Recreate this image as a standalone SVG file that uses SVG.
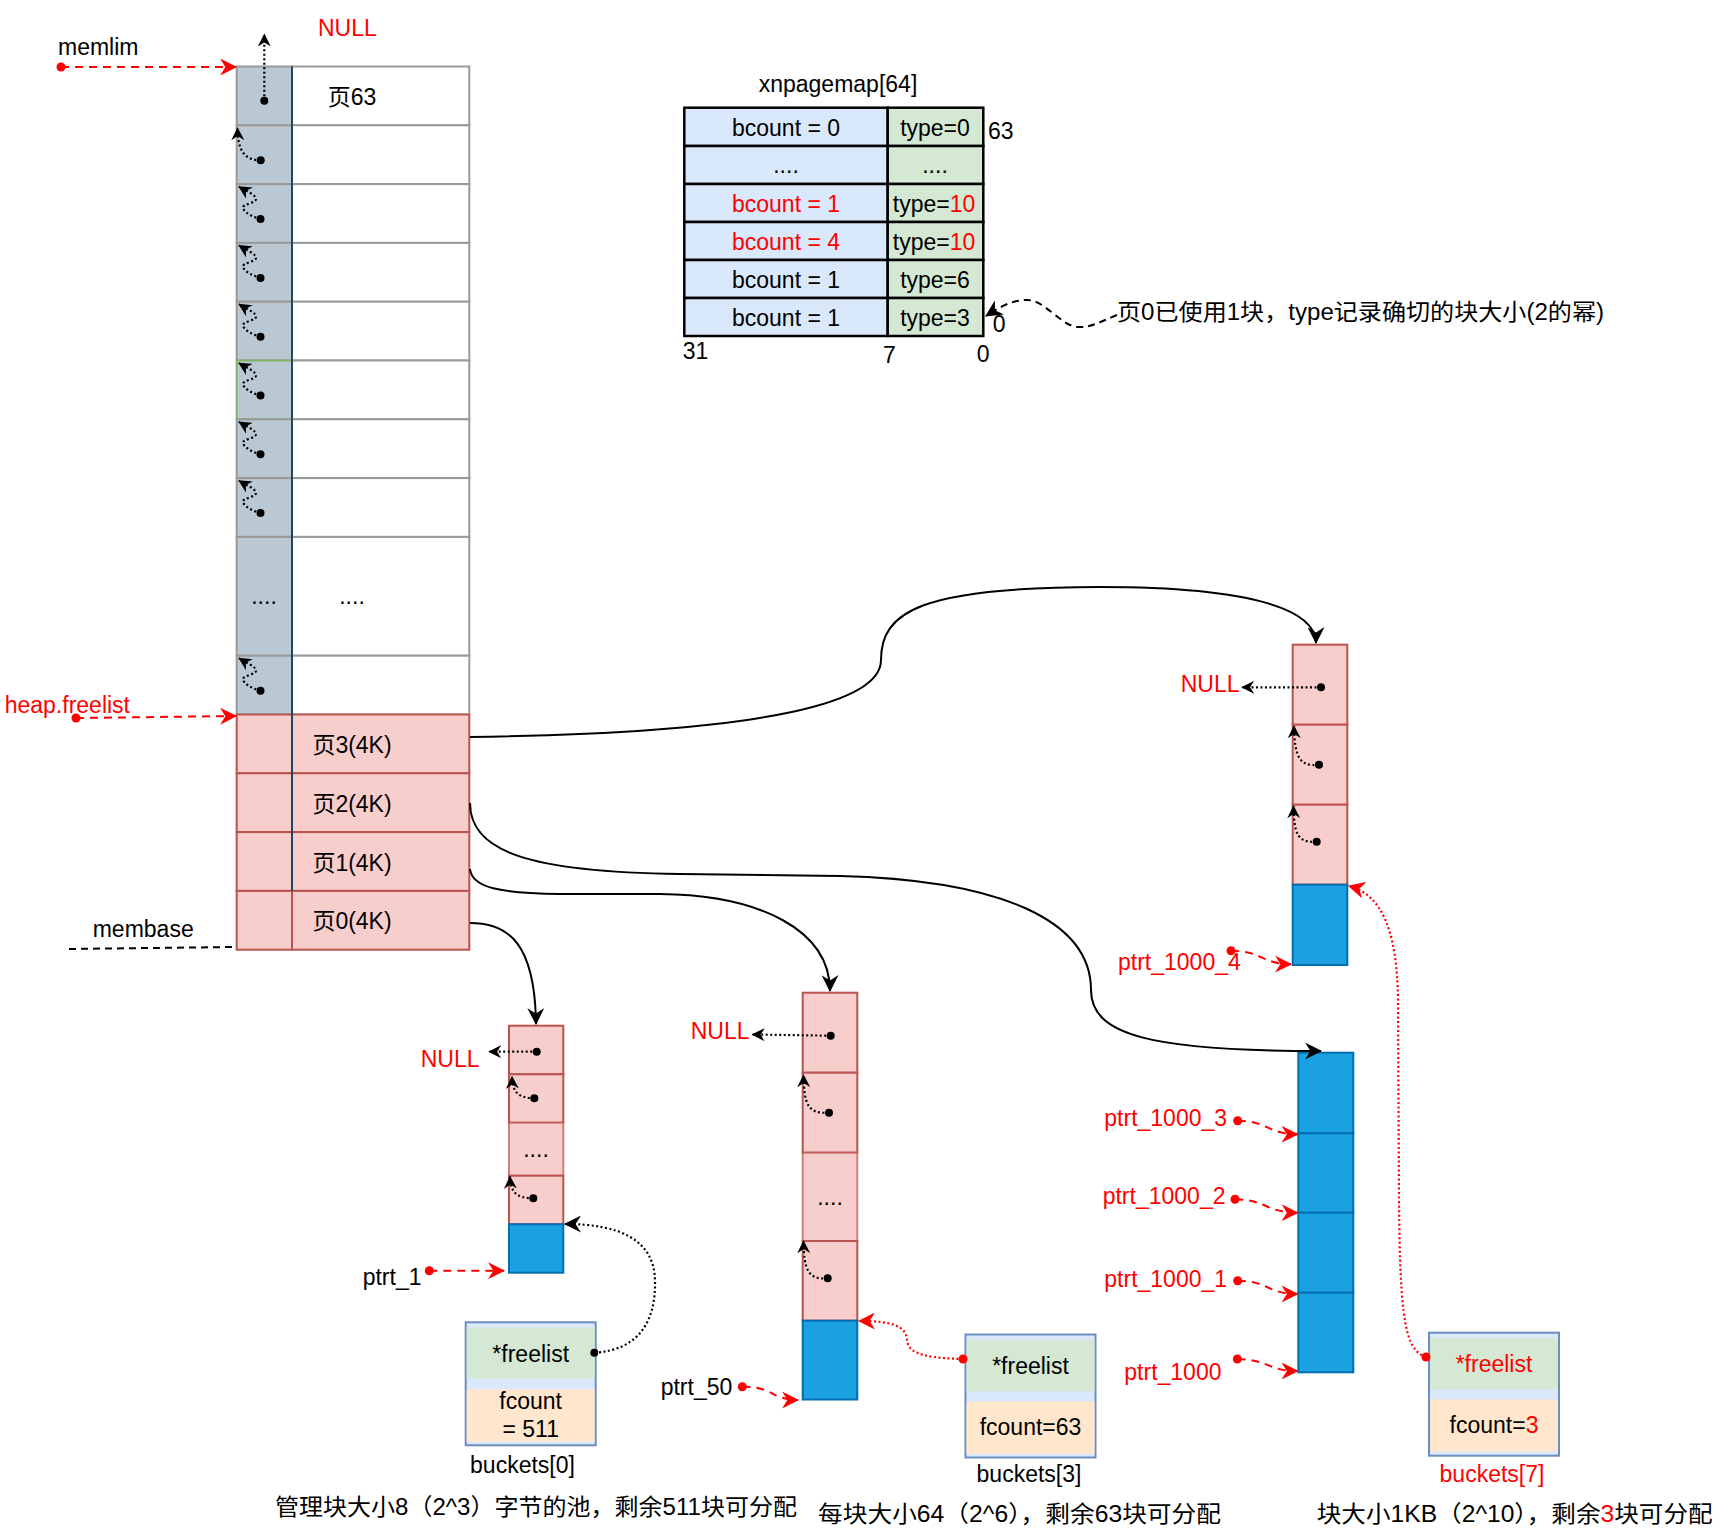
<svg xmlns="http://www.w3.org/2000/svg" width="1734" height="1532" viewBox="0 0 1734 1532">
<style>
text{font-family:"Liberation Sans","Noto Sans CJK SC",sans-serif;font-size:23px;fill:#000}
.c{text-anchor:middle}
.r{fill:#ff0000}
.gray{fill:#bac8d3;stroke:#999;stroke-width:2}
.white{fill:#fff;stroke:#999;stroke-width:2}
.pink{fill:#f8cecc;stroke:#b85450;stroke-width:2}
.blue{fill:#1ba1e2;stroke:#006eaf;stroke-width:2}
.tl{fill:#dae8fc;stroke:#000;stroke-width:2.5}
.tr{fill:#d5e8d4;stroke:#000;stroke-width:2.5}
.bo{fill:#dae8fc;stroke:#6c8ebf;stroke-width:2}
.bg{fill:#d5e8d4}
.bor{fill:#ffe6cc}
.solid{fill:none;stroke:#000;stroke-width:2}
.dot{fill:none;stroke:#000;stroke-width:2.2;stroke-dasharray:2 2.5}
.rdash{fill:none;stroke:#ff0000;stroke-width:2;stroke-dasharray:8 6}
.rdot{fill:none;stroke:#ff0000;stroke-width:2.2;stroke-dasharray:2 2.5}
.kdash{fill:none;stroke:#000;stroke-width:2;stroke-dasharray:7 5}
</style>
<defs>
<marker id="ab" viewBox="0 0 16 16" refX="15" refY="8" markerWidth="17" markerHeight="17" markerUnits="userSpaceOnUse" orient="auto"><path d="M0,0 L16,8 L0,16 L5,8 Z" fill="#000"/></marker>
<marker id="as" viewBox="0 0 16 16" refX="15" refY="8" markerWidth="13" markerHeight="13" markerUnits="userSpaceOnUse" orient="auto"><path d="M0,0 L16,8 L0,16 L5,8 Z" fill="#000"/></marker>
<marker id="ar" viewBox="0 0 16 16" refX="15" refY="8" markerWidth="17" markerHeight="17" markerUnits="userSpaceOnUse" orient="auto"><path d="M0,0 L16,8 L0,16 L5,8 Z" fill="#ff0000"/></marker>
<marker id="dk" viewBox="-5 -5 10 10" refX="0" refY="0" markerWidth="10" markerHeight="10" markerUnits="userSpaceOnUse"><circle r="4" fill="#000"/></marker>
<marker id="dr" viewBox="-5 -5 10 10" refX="0" refY="0" markerWidth="10" markerHeight="10" markerUnits="userSpaceOnUse"><circle r="4.5" fill="#ff0000"/></marker>
</defs>
<rect width="1734" height="1532" fill="#fff"/>

<g id="heap">
  <g id="page63"><rect class="gray" x="236.7" y="66.5" width="55.3" height="58.8"/><rect class="white" x="292" y="66.5" width="177.3" height="58.8"/><text class="c" x="352" y="105">页63</text></g>
  <g id="page62"><rect class="gray" x="236.7" y="125.3" width="55.3" height="58.8"/><rect class="white" x="292" y="125.3" width="177.3" height="58.8"/></g>
  <g id="page61"><rect class="gray" x="236.7" y="184.1" width="55.3" height="58.8"/><rect class="white" x="292" y="184.1" width="177.3" height="58.8"/></g>
  <g id="page60"><rect class="gray" x="236.7" y="242.9" width="55.3" height="58.8"/><rect class="white" x="292" y="242.9" width="177.3" height="58.8"/></g>
  <g id="page59"><rect class="gray" x="236.7" y="301.7" width="55.3" height="58.8"/><rect class="white" x="292" y="301.7" width="177.3" height="58.8"/></g>
  <g id="page58"><rect class="gray" x="236.7" y="360.5" width="55.3" height="58.8" style="stroke:#82b366"/><rect class="white" x="292" y="360.5" width="177.3" height="58.8"/></g>
  <g id="page57"><rect class="gray" x="236.7" y="419.3" width="55.3" height="58.8"/><rect class="white" x="292" y="419.3" width="177.3" height="58.8"/></g>
  <g id="page56"><rect class="gray" x="236.7" y="478.1" width="55.3" height="58.8"/><rect class="white" x="292" y="478.1" width="177.3" height="58.8"/></g>
  <g id="page-dots"><rect class="gray" x="236.7" y="536.9" width="55.3" height="118.8"/><rect class="white" x="292" y="536.9" width="177.3" height="118.8"/><text class="c" x="264" y="604">....</text><text class="c" x="352" y="604">....</text></g>
  <g id="page4"><rect class="gray" x="236.7" y="655.7" width="55.3" height="58.8"/><rect class="white" x="292" y="655.7" width="177.3" height="58.8"/></g>
  <g id="page3"><rect class="pink" x="236.7" y="714.5" width="55.3" height="58.8"/><rect class="pink" x="292" y="714.5" width="177.3" height="58.8"/><text class="c" x="352" y="753">页3(4K)</text></g>
  <g id="page2"><rect class="pink" x="236.7" y="773.3" width="55.3" height="58.8"/><rect class="pink" x="292" y="773.3" width="177.3" height="58.8"/><text class="c" x="352" y="812">页2(4K)</text></g>
  <g id="page1"><rect class="pink" x="236.7" y="832.1" width="55.3" height="58.8"/><rect class="pink" x="292" y="832.1" width="177.3" height="58.8"/><text class="c" x="352" y="870.5">页1(4K)</text></g>
  <g id="page0"><rect class="pink" x="236.7" y="890.9" width="55.3" height="58.8"/><rect class="pink" x="292" y="890.9" width="177.3" height="58.8"/><text class="c" x="352" y="929.3">页0(4K)</text></g>
  <line x1="292" y1="66.5" x2="292" y2="890.9" stroke="#23445d" stroke-width="2"/>
</g>

<g id="labels-left">
  <text x="58" y="55">memlim</text>
  <text class="r" x="318" y="36">NULL</text>
  <text class="r" x="4.7" y="713">heap.freelist</text>
  <text x="92.7" y="937">membase</text>
</g>

<g id="xnpagemap">
  <text class="c" x="838" y="91.7">xnpagemap[64]</text>
  <rect class="tl" x="684.3" y="107.7" width="203.4" height="38.3"/><rect class="tr" x="887.7" y="107.7" width="95.6" height="38.3"/>
  <rect class="tl" x="684.3" y="146" width="203.4" height="38"/><rect class="tr" x="887.7" y="146" width="95.6" height="38"/>
  <rect class="tl" x="684.3" y="184" width="203.4" height="38"/><rect class="tr" x="887.7" y="184" width="95.6" height="38"/>
  <rect class="tl" x="684.3" y="222" width="203.4" height="38"/><rect class="tr" x="887.7" y="222" width="95.6" height="38"/>
  <rect class="tl" x="684.3" y="260" width="203.4" height="38"/><rect class="tr" x="887.7" y="260" width="95.6" height="38"/>
  <rect class="tl" x="684.3" y="298" width="203.4" height="38"/><rect class="tr" x="887.7" y="298" width="95.6" height="38"/>
  <text class="c" x="786" y="136">bcount = 0</text><text class="c" x="935" y="136">type=0</text>
  <text class="c" x="786" y="173">....</text><text class="c" x="935" y="173">....</text>
  <text class="c r" x="786" y="212">bcount = 1</text><text class="c" x="934" y="212">type=<tspan class="r">10</tspan></text>
  <text class="c r" x="786" y="250">bcount = 4</text><text class="c" x="934" y="250">type=<tspan class="r">10</tspan></text>
  <text class="c" x="786" y="288">bcount = 1</text><text class="c" x="935" y="288">type=6</text>
  <text class="c" x="786" y="326">bcount = 1</text><text class="c" x="935" y="326">type=3</text>
  <text x="988" y="139">63</text>
  <text x="682.7" y="359">31</text>
  <text x="883" y="362.5">7</text>
  <text x="976.7" y="361.7">0</text>
  <text x="992.7" y="331.7">0</text>
</g>
<g id="note"><text x="1117" y="320" textLength="487" lengthAdjust="spacingAndGlyphs">页0已使用1块，type记录确切的块大小(2的幂)</text></g>

<g id="chain-1000-free">
  <rect class="pink" x="1292.7" y="644.7" width="54.6" height="80"/>
  <rect class="pink" x="1292.7" y="724.7" width="54.6" height="80"/>
  <rect class="pink" x="1292.7" y="804.7" width="54.6" height="80"/>
  <rect class="blue" x="1292.7" y="884.7" width="54.6" height="80.3"/>
  <text class="r" x="1180.7" y="691.7">NULL</text>
  <text class="r" x="1118" y="969.5">ptrt_1000_4</text>
</g>

<g id="chain-1000-used">
  <rect class="blue" x="1298.3" y="1052.7" width="55" height="80.6"/>
  <rect class="blue" x="1298.3" y="1133.3" width="55" height="79.4"/>
  <rect class="blue" x="1298.3" y="1212.7" width="55" height="80"/>
  <rect class="blue" x="1298.3" y="1292.7" width="55" height="79.6"/>
  <text class="r" x="1104.3" y="1126">ptrt_1000_3</text>
  <text class="r" x="1102.7" y="1204.3">ptrt_1000_2</text>
  <text class="r" x="1104.3" y="1286.7">ptrt_1000_1</text>
  <text class="r" x="1124.3" y="1380">ptrt_1000</text>
</g>

<g id="chain-8">
  <rect class="pink" x="509" y="1025.7" width="54.3" height="48.6"/>
  <rect class="pink" x="509" y="1074.3" width="54.3" height="48.4"/>
  <rect class="pink" x="509" y="1122.7" width="54.3" height="53" style="stroke-opacity:0.7"/>
  <rect class="pink" x="509" y="1175.7" width="54.3" height="48.6"/>
  <rect class="blue" x="509" y="1224.3" width="54.3" height="48.4"/>
  <text class="c" x="536" y="1157">....</text>
  <text class="r" x="420.7" y="1067">NULL</text>
  <text x="362.7" y="1285">ptrt_1</text>
</g>

<g id="chain-64">
  <rect class="pink" x="802.7" y="992.7" width="54.6" height="80"/>
  <rect class="pink" x="802.7" y="1072.7" width="54.6" height="80"/>
  <rect class="pink" x="802.7" y="1152.7" width="54.6" height="88.3" style="stroke-opacity:0.7"/>
  <rect class="pink" x="802.7" y="1241" width="54.6" height="79.7"/>
  <rect class="blue" x="802.7" y="1320.7" width="54.6" height="78.8"/>
  <text class="c" x="830" y="1205">....</text>
  <text class="r" x="690.7" y="1039">NULL</text>
  <text x="660.7" y="1395">ptrt_50</text>
</g>

<g id="bucket0">
  <rect class="bo" x="465.7" y="1322.3" width="130" height="123"/>
  <rect class="bg" x="466.7" y="1327.3" width="128" height="51.6"/>
  <rect class="bor" x="466.7" y="1389.3" width="128" height="52.4"/>
  <text class="c" x="530.7" y="1362">*freelist</text>
  <text class="c" x="530.7" y="1409">fcount</text>
  <text class="c" x="530.7" y="1437">= 511</text>
  <text class="c" x="522.5" y="1473">buckets[0]</text>
</g>
<g id="bucket3">
  <rect class="bo" x="965.5" y="1334.5" width="130" height="123"/>
  <rect class="bg" x="966.5" y="1339.5" width="128" height="51.6"/>
  <rect class="bor" x="966.5" y="1401.5" width="128" height="52.4"/>
  <text class="c" x="1030.5" y="1374">*freelist</text>
  <text class="c" x="1030.5" y="1435">fcount=63</text>
  <text class="c" x="1029" y="1482">buckets[3]</text>
</g>
<g id="bucket7">
  <rect class="bo" x="1429" y="1332.7" width="130" height="123"/>
  <rect class="bg" x="1430" y="1337.7" width="128" height="51.6"/>
  <rect class="bor" x="1430" y="1399.3" width="128" height="52.4"/>
  <text class="c r" x="1494" y="1372">*freelist</text>
  <text class="c" x="1494" y="1433">fcount=<tspan class="r">3</tspan></text>
  <text class="c r" x="1492" y="1482">buckets[7]</text>
</g>

<g id="captions">
  <text x="275" y="1515" textLength="522" lengthAdjust="spacingAndGlyphs">管理块大小8（2^3）字节的池，剩余511块可分配</text>
  <text x="818" y="1522" textLength="403" lengthAdjust="spacingAndGlyphs">每块大小64（2^6），剩余63块可分配</text>
  <text x="1316.7" y="1521.7" textLength="396" lengthAdjust="spacingAndGlyphs">块大小1KB（2^10），剩余<tspan class="r">3</tspan>块可分配</text>
</g>

<g id="connectors">
  <path class="rdash" d="M61,67 L236,67" marker-start="url(#dr)" marker-end="url(#ar)"/>
  <path class="rdash" d="M76,718 L236,716" marker-start="url(#dr)" marker-end="url(#ar)"/>
  <path class="kdash" d="M69,949 L233,947"/>
  <path class="dot" d="M264.3,100.7 L264.3,34.3" marker-start="url(#dk)" marker-end="url(#as)"/>
  <path class="dot" d="M260.7,160.3 C245,160 238,152 237.5,128" marker-start="url(#dk)" marker-end="url(#as)"/>
  <path class="dot" d="M260.5,219.1 C252,217 244,212 243,208.1 C242,204 256,203 256,199.1 C256,195 246,191 239,186.7" marker-start="url(#dk)" marker-end="url(#as)"/>
  <path class="dot" d="M260.5,277.9 C252,275.8 244,270.8 243,266.9 C242,262.8 256,261.8 256,257.9 C256,253.8 246,249.8 239,245.5" marker-start="url(#dk)" marker-end="url(#as)"/>
  <path class="dot" d="M260.5,336.7 C252,334.6 244,329.6 243,325.7 C242,321.6 256,320.6 256,316.7 C256,312.6 246,308.6 239,304.3" marker-start="url(#dk)" marker-end="url(#as)"/>
  <path class="dot" d="M260.5,395.5 C252,393.4 244,388.4 243,384.5 C242,380.4 256,379.4 256,375.5 C256,371.4 246,367.4 239,363.1" marker-start="url(#dk)" marker-end="url(#as)"/>
  <path class="dot" d="M260.5,454.3 C252,452.2 244,447.2 243,443.3 C242,439.2 256,438.2 256,434.3 C256,430.2 246,426.2 239,421.9" marker-start="url(#dk)" marker-end="url(#as)"/>
  <path class="dot" d="M260.5,513.1 C252,511 244,506 243,502.1 C242,498 256,497 256,493.1 C256,489 246,485 239,480.7" marker-start="url(#dk)" marker-end="url(#as)"/>
  <path class="dot" d="M260.5,690.7 C252,688.6 244,683.6 243,679.7 C242,675.6 256,674.6 256,670.7 C256,666.6 246,662.6 239,658.3" marker-start="url(#dk)" marker-end="url(#as)"/>

  <path class="solid" d="M470,737 C780,733 881,700 881,660 C881,612 920,587 1100,587 C1260,587 1316,612 1316,643" marker-end="url(#ab)"/>
  <path class="solid" d="M470,803 C470,852 530,872 680,874 L840,876 C1000,880 1091,920 1091,990 C1091,1035 1150,1051 1321,1051" marker-end="url(#ab)"/>
  <path class="solid" d="M470,869 C472,888 500,893 560,894 L660,894 C760,895 830,930 830,991" marker-end="url(#ab)"/>
  <path class="solid" d="M470,923 C510,923 535,945 536,1024" marker-end="url(#ab)"/>

  <path class="kdash" d="M1117,315 C1100,322 1090,328 1077,327 C1060,325 1045,300 1027,300 C1010,300 997,309 986,316" marker-end="url(#ab)"/>

  <path class="dot" d="M1321,687.3 L1242,687.3" marker-start="url(#dk)" marker-end="url(#as)"/>
  <path class="dot" d="M1319,764.7 C1300,767 1294.5,758 1294,726" marker-start="url(#dk)" marker-end="url(#as)"/>
  <path class="dot" d="M1316.7,841.7 C1298,843 1294,835 1293.5,806" marker-start="url(#dk)" marker-end="url(#as)"/>
  <path class="rdash" d="M1231,950.7 C1262,951 1262,964 1291,964.3" marker-start="url(#dr)" marker-end="url(#ar)"/>
  <path class="rdot" d="M1426,1357 C1405,1350 1400,1320 1399,1200 L1398,1000 C1397,930 1382,895 1349,886" marker-start="url(#dr)" marker-end="url(#ar)"/>

  <path class="rdash" d="M1237.7,1120.7 C1268,1121 1268,1134.3 1297.5,1134.3" marker-start="url(#dr)" marker-end="url(#ar)"/>
  <path class="rdash" d="M1235,1199.3 C1266,1199.5 1266,1212.7 1297.5,1212.7" marker-start="url(#dr)" marker-end="url(#ar)"/>
  <path class="rdash" d="M1237.7,1280.7 C1268,1281 1268,1294 1297.5,1294" marker-start="url(#dr)" marker-end="url(#ar)"/>
  <path class="rdash" d="M1237.3,1359 C1268,1359.3 1268,1371 1297.5,1371" marker-start="url(#dr)" marker-end="url(#ar)"/>

  <path class="dot" d="M536.7,1051.7 L489,1051.7" marker-start="url(#dk)" marker-end="url(#as)"/>
  <path class="dot" d="M534.3,1098.3 C518,1098 512.5,1092 512,1076.5" marker-start="url(#dk)" marker-end="url(#as)"/>
  <path class="dot" d="M533.3,1198.3 C516,1198 510.5,1192 510,1176.5" marker-start="url(#dk)" marker-end="url(#as)"/>
  <path class="rdash" d="M429.3,1270.7 L504,1270.7" marker-start="url(#dr)" marker-end="url(#ar)"/>
  <path class="dot" d="M594.3,1352.7 C640,1350 656,1320 655,1280 C654,1240 620,1224 565,1224" marker-start="url(#dk)" marker-end="url(#ab)"/>

  <path class="dot" d="M830.7,1035.7 L752.5,1034.5" marker-start="url(#dk)" marker-end="url(#as)"/>
  <path class="dot" d="M829,1112.7 C808,1114 804,1105 803.5,1075" marker-start="url(#dk)" marker-end="url(#as)"/>
  <path class="dot" d="M827.7,1278.3 C808,1280 804,1270 803.5,1241" marker-start="url(#dk)" marker-end="url(#as)"/>
  <path class="rdash" d="M742.3,1386.7 C772,1386 772,1400 798,1400" marker-start="url(#dr)" marker-end="url(#ar)"/>
  <path class="rdot" d="M963,1359 C915,1358 908,1350 907,1340 C906,1325 890,1321 859,1321" marker-start="url(#dr)" marker-end="url(#ar)"/>
</g>
</svg>
